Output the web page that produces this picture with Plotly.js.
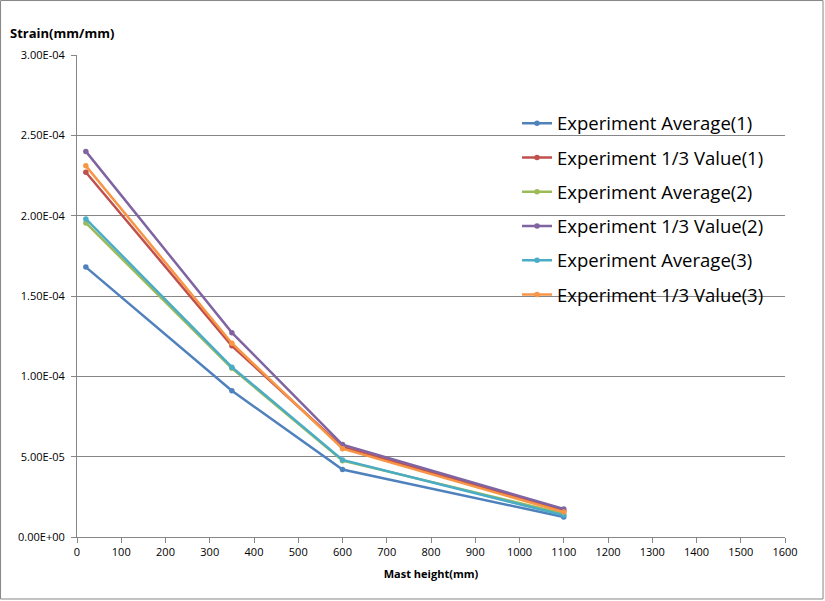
<!DOCTYPE html>
<html><head><meta charset="utf-8">
<script src="https://cdn.plot.ly/plotly-3.0.1.min.js"></script>
<style>html,body{margin:0;padding:0;background:#fff}#c{width:825px;height:601px}</style>
</head><body><div id="c"></div>
<script>
const heights = [20, 350, 600, 1100];
const seriesNames = ["Experiment Average(1)","Experiment 1/3 Value(1)","Experiment Average(2)","Experiment 1/3 Value(2)","Experiment Average(3)","Experiment 1/3 Value(3)"];
const avg1 = [1.68e-4, 0.91e-4, 0.42e-4, 1.25e-5];
const third1 = [2.27e-4, 1.19e-4, 0.56e-4, 1.65e-5];
const avg2 = [1.955e-4, 1.05e-4, 0.475e-4, 1.45e-5];
const third2 = [2.40e-4, 1.272e-4, 0.575e-4, 1.74e-5];
const avg3 = [1.98e-4, 1.057e-4, 0.48e-4, 1.35e-5];
const third3 = [2.31e-4, 1.206e-4, 0.55e-4, 1.55e-5];
const colors = ["#4F81BD","#C0504D","#9BBB59","#8064A2","#4BACC6","#F79646"];
const yTickVals = [0, 0.5e-4, 1.0e-4, 1.5e-4, 2.0e-4, 2.5e-4, 3.0e-4];
const yTickText = ["0.00E+00","5.00E-05","1.00E-04","1.50E-04","2.00E-04","2.50E-04","3.00E-04"];
const xTickVals = [0,100,200,300,400,500,600,700,800,900,1000,1100,1200,1300,1400,1500,1600];

const allY = [avg1, third1, avg2, third2, avg3, third3];
const traces = allY.map((ys, i) => ({
  x: heights, y: ys, name: seriesNames[i], type: 'scatter', mode: 'lines+markers',
  legendgroup: 'g' + i,
  line: {color: colors[i], width: 2.5}, marker: {color: colors[i], size: 5.5}
}));

const layout = {
  width: 825, height: 601,
  paper_bgcolor: '#fff', plot_bgcolor: '#fff',
  margin: {l: 77, r: 40, t: 55, b: 64},
  font: {family: '"Open Sans", "Liberation Sans", sans-serif', color: '#000'},
  showlegend: true,
  legend: {x: 0.6215, y: 0.897, xanchor: 'left', yanchor: 'top', bgcolor: 'rgba(0,0,0,0)',
           font: {size: 18.5, family: '"Open Sans", sans-serif', color: '#000'}, itemwidth: 30, tracegroupgap: 7.2},
  xaxis: {range: [0, 1600], tickvals: xTickVals, ticks: 'outside', ticklen: 5, tickcolor: '#868686',
          showline: true, linecolor: '#868686', linewidth: 1, showgrid: false, zeroline: false,
          tickfont: {size: 11}, title: {text: 'Mast height(mm)', font: {size: 11, weight: 'bold'}, standoff: 12}},
  yaxis: {range: [0, 3.0e-4], tickvals: yTickVals, ticktext: yTickText, ticks: 'outside', ticklen: 5, tickcolor: '#868686',
          showline: true, linecolor: '#868686', linewidth: 1, showgrid: true, gridcolor: '#868686', gridwidth: 1,
          zeroline: false, tickfont: {size: 11}, ticklabelstandoff: 4},
  annotations: [{text: 'Strain(mm/mm)', xref: 'paper', yref: 'paper', x: -0.0975, y: 1.0456, xanchor: 'left', yanchor: 'middle',
                 showarrow: false, font: {size: 13, weight: 'bold'}}],
  shapes: [{type: 'rect', xref: 'paper', yref: 'paper', x0: -0.108, x1: 1.0537, y0: -0.1286, y1: 1.113,
            line: {color: '#868686', width: 1}}]
};
Plotly.newPlot('c', traces, layout, {displayModeBar: false, staticPlot: true});
</script></body></html>
